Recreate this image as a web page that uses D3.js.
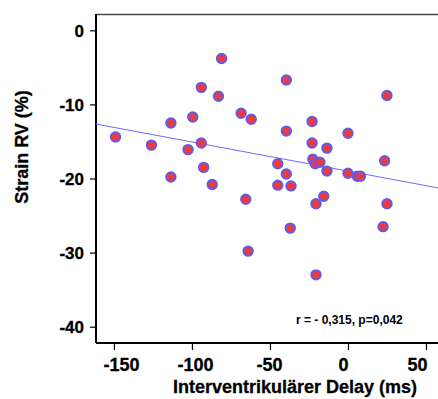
<!DOCTYPE html>
<html>
<head>
<meta charset="utf-8">
<script src="https://cdn.jsdelivr.net/npm/d3@7/dist/d3.min.js"></script>
<style>
  body { margin: 0; background: #fff; }
  svg text { font-family: 'Liberation Sans', Arial, sans-serif; font-weight: bold; fill: #000; }
</style>
</head>
<body>
<div id="content"></div>
<script>
'use strict';

// Interventrikulärer Delay (ms) vs Strain RV (%)
var delay = [-149, -126, -113.5, -113.5, -99.5, -102.5, -94, -94, -92.5, -87, -83, -81, -68.5, -62, -39.5, -39.5,
    -23, -23, -13.5, 0, 25, -45, -39.5, -45, -36.5, -22.5, -21, -18, -13.5, 0, 6, 8, 23.5, -65.5, -15.5, -20.5,
    25, -37, 22.5, -64, -20.5]
var strain = [-14.4, -15.5, -12.5, -19.8, -11.7, -16.1, -15.2, -7.7, -18.5, -20.8, -8.9, -3.8, -11.2, -12, -6.7, -13.6,
    -12.3, -15.2, -15.9, -13.9, -8.8, -18, -19.4, -20.9, -21, -17.4, -18, -17.8, -19, -19.3, -19.7, -19.7, -17.6, -22.8, -22.4, -23.4,
    -23.4, -26.7, -26.5, -29.8, -33]
var xTicks = [-150, -100, -50, 0, 50]
var yTicks = [0, -10, -20, -30, -40]
var fitSlope = -0.0393 // regression line
var fitIntercept = -19.0
var note = 'r = - 0,315, p=0,042'

var width = 438
var height = 399
var padLeft = 96, padTop = 14, padBottom = 343, padRight = 438

var svg = d3.select('#content').append('svg').attr('width', width).attr('height', height)

var x = d3.scaleLinear().domain([-161.5, 57.7]).range([padLeft, padRight])
var y = d3.scaleLinear().domain([-42.2, 2.2]).range([padBottom, padTop])
// the x tick labels sit a little tighter than the ticks themselves
var xLabel = d3.scaleLinear().domain([-150, 50]).range([121, 417])

// top frame line
svg.append('line')
    .attr('x1', padLeft).attr('x2', padRight).attr('y1', padTop + 0.5).attr('y2', padTop + 0.5)
    .style('stroke', '#4a4a4a').style('stroke-width', 1.5)

// axes
var yAxis = svg.append('g').attr('transform', 'translate(' + padLeft + ',0)')
    .call(d3.axisLeft(y).tickValues(yTicks).tickSize(6).tickPadding(6).tickFormat(d3.format('d')))
var xAxis = svg.append('g').attr('transform', 'translate(0,' + padBottom + ')')
    .call(d3.axisBottom(x).tickValues(xTicks).tickSize(7).tickPadding(8).tickFormat(d3.format('d')))

yAxis.select('.domain').attr('d', 'M0,' + padTop + 'V' + padBottom).style('stroke', '#000').style('stroke-width', 2)
xAxis.select('.domain').attr('d', 'M' + padLeft + ',0H' + padRight).style('stroke', '#000').style('stroke-width', 2)
svg.selectAll('.tick line').style('stroke', '#000').style('stroke-width', 1.2)
svg.selectAll('.tick text')
    .style('font-family', "'Liberation Sans', Arial, sans-serif").style('font-weight', 'bold')
    .style('stroke', '#000').style('stroke-width', 0.3)
    .text(function(d) { return d < 0 ? '-' + Math.abs(d) : d })
yAxis.selectAll('.tick text').style('font-size', '17px').attr('dy', '0.36em')
xAxis.selectAll('.tick text').style('font-size', '18px')
    .attr('x', function(d) { return xLabel(d) - x(d) })

// regression line
svg.append('line')
    .attr('x1', x(-161.5)).attr('y1', y(fitIntercept + fitSlope * -161.5))
    .attr('x2', x(57.7)).attr('y2', y(fitIntercept + fitSlope * 57.7))
    .style('stroke', '#6b6bff').style('stroke-width', 1)

// points
var points = delay.map(function(d, i) { return { x: d, y: strain[i] } })
svg.append('g').selectAll('circle').data(points).enter().append('circle')
    .attr('cx', function(d) { return x(d.x) })
    .attr('cy', function(d) { return y(d.y) })
    .attr('r', 4.7)
    .style('fill', '#f03a3a')
    .style('stroke', '#5c5cf0')
    .style('stroke-width', 2)

// annotation
svg.append('text').attr('x', 296).attr('y', 324).style('font-size', '12px').text(note)

// axis titles
svg.append('text').attr('x', 295).attr('y', 393).attr('text-anchor', 'middle')
    .style('font-size', '18px').style('stroke', '#000').style('stroke-width', 0.3)
    .text('Interventrikulärer Delay (ms)')
svg.append('text').attr('transform', 'translate(28,147) rotate(-90)').attr('text-anchor', 'middle')
    .style('font-size', '18px').style('stroke', '#000').style('stroke-width', 0.3)
    .text('Strain RV (%)')
</script>
</body>
</html>
